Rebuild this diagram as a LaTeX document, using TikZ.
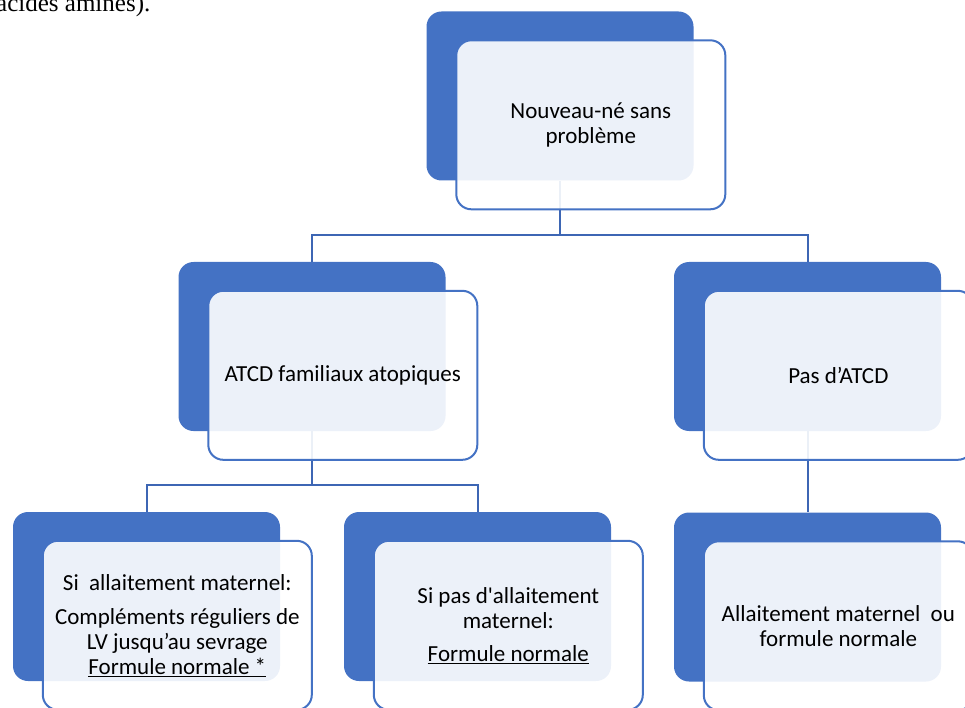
\documentclass[tikz,border=0pt]{standalone}
\usepackage{fontspec}
\setmainfont{Carlito}
\newfontfamily\bodyserif{Liberation Serif}
\usetikzlibrary{positioning}
\definecolor{accent}{HTML}{4472C4}
\definecolor{linkblue}{HTML}{3D66B4}
\tikzset{
  backbox/.style={fill=accent, rounded corners=15pt, inner sep=0pt,
    minimum width=267pt, minimum height=169pt},
  frontbox/.style={fill=white, fill opacity=0.9, text opacity=1, draw=accent,
    line width=2pt, rounded corners=15pt, inner sep=2pt, align=center,
    minimum width=269pt, minimum height=169pt, anchor=north west,
    font=\fontsize{23}{25}\selectfont},
  link/.style={draw=linkblue, line width=2pt}
}
\begin{document}
\begin{tikzpicture}[x=1pt, y=-1pt]
  \clip (0,0) rectangle (965,708);
  % end of the text above the chart
  \node [font=\bodyserif\fontsize{25}{28}\selectfont, anchor=base west, inner sep=0pt]
    (prevtext) at (-4,12) {acides aminés).};
  % back boxes
  \node [backbox] (b0) at (560,96) {};
  \node [backbox] (b1) at (312,346.5) {};
  \node [backbox] (b2) at (807.5,346.5) {};
  \node [backbox] (b3) at (146.5,596.5) {};
  \node [backbox] (b4) at (477.5,596.5) {};
  \node [backbox] (b5) at (807.5,597) {};
  % connectors
  \coordinate (j0) at (b0.south |- 0,235);
  \coordinate (j1) at (b1.south |- 0,485);
  \draw [link] (b0.south) -- (j0) -| (b1.north);
  \draw [link] (j0) -| (b2.north);
  \draw [link] (b1.south) -- (j1) -| (b3.north);
  \draw [link] (j1) -| (b4.north);
  \draw [link] (b2.south) -- (b5.north);
  % front boxes
  \node [frontbox] (f0) at ([shift={(29,28)}]b0.north west) {Nouveau-né sans\\problème};
  \node [frontbox] (f1) at ([shift={(29,28)}]b1.north west) {ATCD familiaux atopiques};
  \node [frontbox] (f2) at ([shift={(29,28)}]b2.north west) {Pas d’ATCD};
  \node [frontbox] (f3) at ([shift={(29,28)}]b3.north west)
    {Si\ \ allaitement maternel:\\[9pt]Compléments réguliers de\\LV jusqu’au sevrage\\\underline{Formule normale *}};
  \node [frontbox] (f4) at ([shift={(29,28)}]b4.north west)
    {Si pas d\textquotesingle allaitement\\maternel:\\[8pt]\underline{Formule normale}};
  \node [frontbox] (f5) at ([shift={(29,28)}]b5.north west) {Allaitement maternel\ \ ou\\formule normale};
\end{tikzpicture}
\end{document}
